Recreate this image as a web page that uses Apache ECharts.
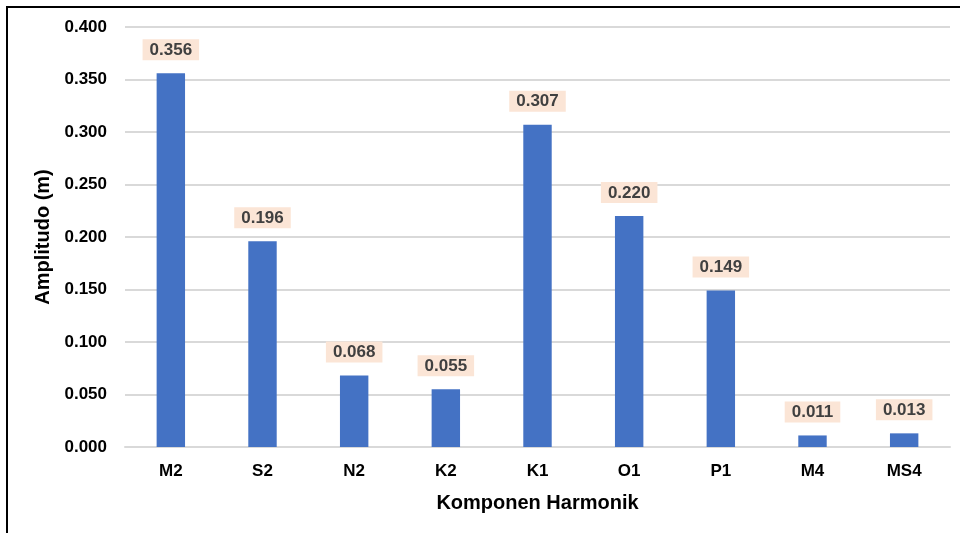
<!DOCTYPE html>
<html><head><meta charset="utf-8">
<script src="https://cdn.jsdelivr.net/npm/echarts@6/dist/echarts.min.js"></script>
<style>html,body{margin:0;padding:0;background:#fff}#c{width:960px;height:533px}
#frame{position:absolute;left:6px;top:6px;width:960px;height:540px;border-left:2px solid #000;border-top:2px solid #000;pointer-events:none}</style>
</head><body><div id="c"></div><div id="frame"></div>
<script>
var categories = ['M2','S2','N2','K2','K1','O1','P1','M4','MS4'];
var amplitudes = [0.356,0.196,0.068,0.055,0.307,0.220,0.149,0.011,0.013];
var yTicks = {min:0, max:0.4, interval:0.05};
var chart = echarts.init(document.getElementById('c'));
var font = 'Liberation Sans, Arial, sans-serif';
chart.setOption({
  animation:false,
  grid:{left:125, right:10, top:27, bottom:86},
  xAxis:{type:'category', data:categories,
    axisLine:{lineStyle:{color:'#d9d9d9', width:2}}, axisTick:{show:false},
    axisLabel:{color:'#000', fontWeight:'bold', fontSize:17, fontFamily:font, margin:16},
    name:'Komponen Harmonik', nameLocation:'middle', nameGap:46,
    nameTextStyle:{color:'#000', fontWeight:'bold', fontSize:20, fontFamily:font}},
  yAxis:{type:'value', min:yTicks.min, max:yTicks.max, interval:yTicks.interval,
    axisLine:{show:false}, axisTick:{show:false},
    splitLine:{lineStyle:{color:'#d9d9d9', width:2}},
    axisLabel:{color:'#000', fontWeight:'bold', fontSize:17, fontFamily:font, margin:18,
      formatter:function(v){return v.toFixed(3);}},
    name:'Amplitudo (m)', nameLocation:'middle', nameGap:72, nameRotate:90,
    nameTextStyle:{color:'#000', fontWeight:'bold', fontSize:20, fontFamily:font}},
  series:[{type:'bar', data:amplitudes, barWidth:'31%',
    itemStyle:{color:'#4472C4'},
    label:{show:true, position:'top', distance:13, color:'#404040', fontWeight:'bold',
      fontSize:17, lineHeight:18, fontFamily:font, backgroundColor:'#FBE5D6', padding:[2,7,1,7],
      formatter:function(p){return p.value.toFixed(3);}}}]
});
</script></body></html>
